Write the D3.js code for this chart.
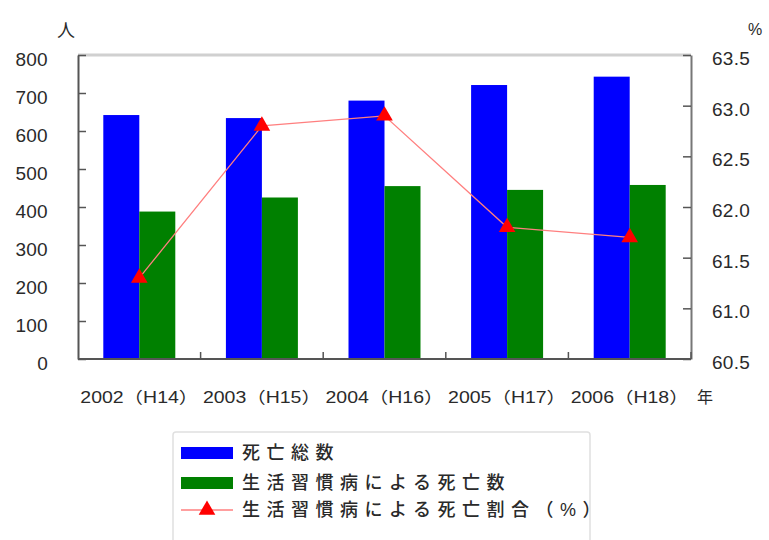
<!DOCTYPE html>
<html>
<head>
<meta charset="utf-8">
<script src="https://cdn.jsdelivr.net/npm/d3@7"></script>
<style>
body{margin:0;background:#fff;}
text{font-family:"Liberation Sans","Noto Sans CJK JP",sans-serif;fill:#2a2a2a;}
</style>
</head>
<body>
<div id="chart"></div>
<script>
// data
var years = ["2002（H14）","2003（H15）","2004（H16）","2005（H17）","2006（H18）"];
var totalDeaths = [642,634,680,721,743];
var lifestyleDeaths = [388,425,455,445,458];
var lifestyleRate = [61.3,62.8,62.9,61.8,61.7];
var leftTicks = [0,100,200,300,400,500,600,700,800];
var rightTicks = [60.5,61.0,61.5,62.0,62.5,63.0,63.5];
var legendLabels = ["死亡総数","生活習慣病による死亡数","生活習慣病による死亡割合（%）"];

var W = 769, H = 540;
var pLeft = 78, pRight = 691, pTop = 55, pBottom = 359;

var svg = d3.select("#chart").append("svg").attr("width",W).attr("height",H);

var x0 = d3.scaleBand().domain(years).range([pLeft,pRight]).padding(0);
var x1 = d3.scaleBand().domain(["total","life"]).range([0,x0.bandwidth()]).paddingInner(0).paddingOuter(0.703);
var yL = d3.scaleLinear().domain([0,800]).range([pBottom,pTop]);
var yR = d3.scaleLinear().domain([60.5,63.5]).range([pBottom,pTop]);

// top frame line
svg.append("line").attr("x1",pLeft).attr("x2",pRight).attr("y1",pTop).attr("y2",pTop)
	.style("stroke","#d0d0d0").style("stroke-width",3);

// bars
var groups = svg.selectAll(".grp").data(years).enter().append("g")
	.attr("transform",function(d){return "translate("+x0(d)+",0)";});
groups.append("rect")
	.attr("x",x1("total")).attr("width",x1.bandwidth())
	.attr("y",function(d,i){return yL(totalDeaths[i]);})
	.attr("height",function(d,i){return pBottom-yL(totalDeaths[i]);})
	.style("fill","#0000ff");
groups.append("rect")
	.attr("x",x1("life")).attr("width",x1.bandwidth())
	.attr("y",function(d,i){return yL(lifestyleDeaths[i]);})
	.attr("height",function(d,i){return pBottom-yL(lifestyleDeaths[i]);})
	.style("fill","#008000");

// left axis
var axL = svg.append("g").attr("transform","translate("+pLeft+",0)")
	.call(d3.axisLeft(yL).tickValues(leftTicks).tickSizeInner(-8).tickSizeOuter(0).tickPadding(30));
axL.select(".domain").style("stroke","#555").style("stroke-width",2);
axL.selectAll(".tick line").style("stroke","#555").style("stroke-width",1.5);
axL.selectAll("text").attr("font-family",null).attr("font-size",null).attr("dy","0.55em")
	.style("font-size","19px").attr("letter-spacing","0.3");

// right axis
var axR = svg.append("g").attr("transform","translate("+pRight+",0)")
	.call(d3.axisRight(yR).tickValues(rightTicks).tickFormat(d3.format(".1f")).tickSizeInner(-8).tickSizeOuter(0).tickPadding(21));
axR.select(".domain").style("stroke","#777").style("stroke-width",2);
axR.selectAll(".tick line").style("stroke","#555").style("stroke-width",1.5);
axR.selectAll("text").attr("font-family",null).attr("font-size",null).attr("dy","0.5em")
	.style("font-size","19px").attr("letter-spacing","0.3");

// bottom axis
svg.append("line").attr("x1",pLeft).attr("x2",pRight).attr("y1",pBottom).attr("y2",pBottom)
	.style("stroke","#555").style("stroke-width",2);
svg.selectAll(".xtick").data(years).enter().append("line")
	.attr("x1",function(d){return x0(d)+x0.bandwidth();})
	.attr("x2",function(d){return x0(d)+x0.bandwidth();})
	.attr("y1",pBottom).attr("y2",pBottom-7)
	.style("stroke","#555").style("stroke-width",1.5);
svg.selectAll(".xlab").data(years).enter().append("text")
	.attr("x",function(d){return x0(d)+x0.bandwidth()/2;})
	.attr("y",403)
	.attr("text-anchor","middle")
	.attr("textLength",118).attr("lengthAdjust","spacingAndGlyphs")
	.style("font-size","16px")
	.text(function(d){return d;});
svg.append("text").attr("x",697).attr("y",403).style("font-size","16px").text("年");

// unit labels
svg.append("text").attr("x",66).attr("y",37).attr("text-anchor","middle").style("font-size","18px").text("人");
svg.append("text").attr("x",755).attr("y",35).attr("text-anchor","middle").style("font-size","16px").text("%");

// rate line
var cx = function(d){return x0(d)+x0.bandwidth()/2;};
var line = d3.line().x(function(d,i){return cx(years[i]);}).y(function(d){return yR(d);});
svg.append("path").datum(lifestyleRate).attr("d",line)
	.style("fill","none").style("stroke","#ff7f7f").style("stroke-width",1.3);
var tri = d3.symbol().type(d3.symbolTriangle).size(120);
svg.selectAll(".pt").data(lifestyleRate).enter().append("path")
	.attr("d",tri)
	.attr("transform",function(d,i){return "translate("+cx(years[i])+","+yR(d)+")";})
	.style("fill","#ff0000");

// legend
var lg = svg.append("g");
lg.append("rect").attr("x",173).attr("y",432).attr("width",417).attr("height",120)
	.attr("rx",3).style("fill","#fff").style("stroke","#e0e0e0").style("stroke-width",1.5);
var rowY = [453,483,510];
lg.append("rect").attr("x",181).attr("y",rowY[0]-6).attr("width",52).attr("height",12).style("fill","#0000ff");
lg.append("rect").attr("x",181).attr("y",rowY[1]-6).attr("width",52).attr("height",12).style("fill","#008000");
lg.append("line").attr("x1",181).attr("x2",233).attr("y1",rowY[2]).attr("y2",rowY[2])
	.style("stroke","#ff7f7f").style("stroke-width",1.3);
lg.append("path").attr("d",tri).attr("transform","translate(207,"+rowY[2]+")").style("fill","#ff0000");
lg.selectAll(".lt").data(legendLabels).enter().append("text")
	.attr("x",242).attr("y",function(d,i){return rowY[i]+6;})
	.attr("letter-spacing","6.5")
	.style("font-size","18px").style("font-weight","500")
	.text(function(d){return d;});
</script>
</body>
</html>
